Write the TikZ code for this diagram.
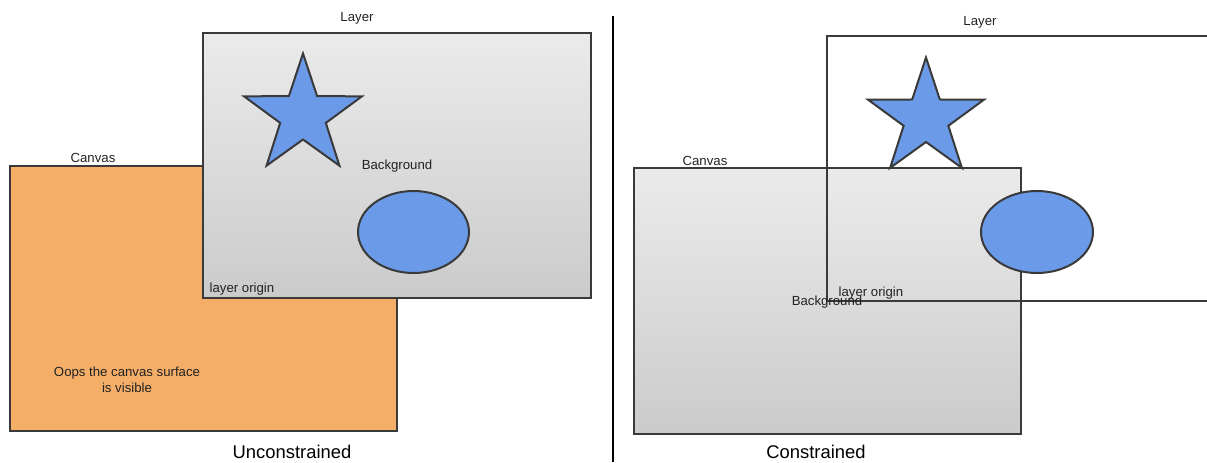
\documentclass[tikz,border=0pt]{standalone}
\usepackage{fontspec}
\setmainfont{Liberation Sans}
\definecolor{linegray}{HTML}{3A3A3A}
\definecolor{canvasorange}{HTML}{F4AE68}
\definecolor{shapeblue}{HTML}{6A9AE8}
\definecolor{gtop}{HTML}{EBEBEB}
\definecolor{gbot}{HTML}{CBCBCB}
\definecolor{textgray}{HTML}{222222}
\begin{document}
\begin{tikzpicture}[x=0.5pt,y=-0.5pt,
  outline/.style={draw=linegray,line width=1pt},
  canvasfill/.style={outline,fill=canvasorange},
  grad/.style={outline,top color=gtop,bottom color=gbot},
  blueshape/.style={outline,fill=shapeblue,line join=miter},
  lbl/.style={font=\fontsize{6.6}{8}\selectfont,text=textgray,inner sep=0pt,align=center},
  ttl/.style={font=\fontsize{9.2}{11}\selectfont,text=black,inner sep=0pt}]
\useasboundingbox (0,0) rectangle (1207,462);
% ---------- left: unconstrained ----------
\draw[canvasfill] (10,166) rectangle (397,431);
\draw[grad] (203,33) rectangle (591,298);
\begin{scope}[shift={(303,115.5)}]
  \draw[blueshape] (-90:62) -- (-54:24) -- (-18:62) -- (18:24) -- (54:62) -- (90:24)
    -- (126:62) -- (162:24) -- (198:62) -- (234:24) -- cycle;
\end{scope}
\draw[blueshape] (413.5,232) ellipse [x radius=55.5, y radius=41];
\node[lbl] (layerL) at (357,18) {Layer};
\node[lbl] (canvasL) at (93,158) {Canvas};
\node[lbl] (bgL) at (397,166) {Background};
\node[lbl] (originL) at (242,289) {layer origin};
\node[lbl] (oops) at (127,380) {Oops the canvas surface\\is visible};
\node[ttl] (uncon) at (292,452) {Unconstrained};
% ---------- divider ----------
\draw[black,line width=1pt] (613,16) -- (613,462);
% ---------- right: constrained ----------
\draw[grad] (634,168) rectangle (1021,434);
\draw[outline] (1212,36) -- (827,36) -- (827,301) -- (1212,301);
\begin{scope}[shift={(926,118.5)}]
  \draw[blueshape] (-90:61) -- (-54:23.5) -- (-18:61) -- (18:23.5) -- (54:61) -- (90:23.5)
    -- (126:61) -- (162:23.5) -- (198:61) -- (234:23.5) -- cycle;
\end{scope}
\draw[blueshape] (1037,232) ellipse [x radius=56, y radius=41];
\node[lbl] (layerR) at (980,22) {Layer};
\node[lbl] (canvasR) at (705,161) {Canvas};
\node[lbl] (originR) at (871,293) {layer origin};
\node[lbl] (bgR) at (827,302) {Background};
\node[ttl] (con) at (816,452) {Constrained};
\end{tikzpicture}
\end{document}
